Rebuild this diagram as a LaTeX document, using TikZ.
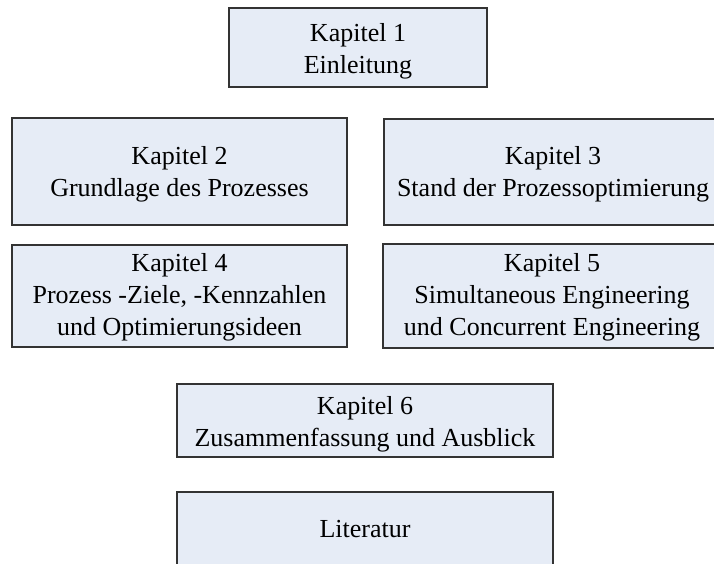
\documentclass[tikz,border=0pt]{standalone}
\usepackage{fontspec}
\setmainfont{Liberation Serif}
\begin{document}
\begin{tikzpicture}[x=1pt,y=-1pt,
  chapbox/.style={draw=black!80, line width=1.1pt, fill=boxfill, rectangle, inner sep=0pt},
  chaptext/.style={inner sep=0pt, align=center, font=\fontsize{26}{32}\selectfont}]
\definecolor{boxfill}{RGB}{230,236,246}
\useasboundingbox (0,0) rectangle (714,563);
\clip (0,0) rectangle (714,563);
% chapter boxes
\node[chapbox, minimum width=258pt, minimum height=79pt] (k1) at (358,47.5) {};
\node[chapbox, minimum width=335pt, minimum height=107pt] (k2) at (179.5,171.5) {};
\node[chapbox, minimum width=338pt, minimum height=106pt] (k3) at (553,172) {};
\node[chapbox, minimum width=335pt, minimum height=102pt] (k4) at (179.5,296) {};
\node[chapbox, minimum width=338pt, minimum height=104pt] (k5) at (552,296) {};
\node[chapbox, minimum width=376pt, minimum height=73pt] (k6) at (365,420.5) {};
\node[chapbox, minimum width=376pt, minimum height=100pt] (lit) at (365,542) {};
% chapter titles
\node[chaptext] (k1t) at ([yshift=-4pt]k1.center) {Kapitel 1\\Einleitung};
\node[chaptext] (k2t) at ([yshift=-3pt]k2.center) {Kapitel 2\\Grundlage des Prozesses};
\node[chaptext] (k3t) at ([yshift=-2pt]k3.center) {Kapitel 3\\Stand der Prozessoptimierung};
\node[chaptext] (k4t) at ([yshift=-1pt]k4.center) {Kapitel 4\\Prozess -Ziele, -Kennzahlen\\und Optimierungsideen};
\node[chaptext] (k5t) at ([yshift=-1pt]k5.center) {Kapitel 5\\Simultaneous Engineering\\und Concurrent Engineering};
\node[chaptext] (k6t) at ([yshift=-4pt]k6.center) {Kapitel 6\\Zusammenfassung und Ausblick};
\node[chaptext] (litt) at ([yshift=-38pt]lit.north) {Literatur};
\end{tikzpicture}
\end{document}
